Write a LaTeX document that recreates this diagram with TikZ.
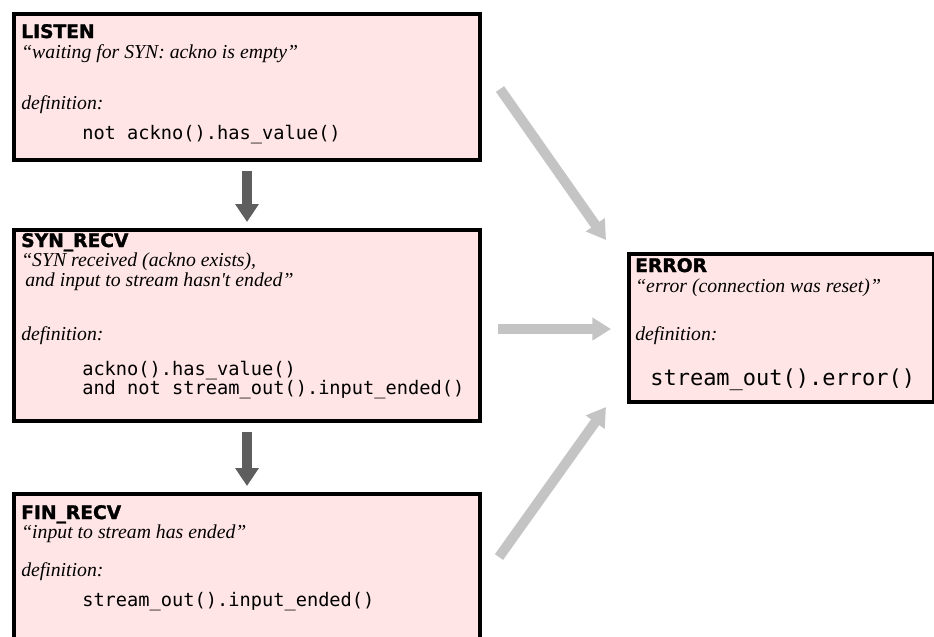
\documentclass[tikz,border=0pt]{standalone}
\usepackage{fontspec}
\newfontfamily\titlefont{DejaVu Sans}[BoldFeatures={FakeBold=1.6}]
\newfontfamily\notefont{Liberation Serif}
\newfontfamily\codefont{DejaVu Sans Mono}
\usetikzlibrary{arrows.meta}

\begin{document}
\begin{tikzpicture}[x=0.75pt,y=-0.75pt,
    state/.style={draw=black, line width=3pt, fill=statefill, inner sep=0pt, anchor=north west},
    statename/.style={font=\titlefont\bfseries\fontsize{14}{16}\selectfont, anchor=base west, inner sep=0pt},
    notetext/.style={font=\notefont\itshape\fontsize{14.8}{16}\selectfont, anchor=base west, inner sep=0pt},
    codetext/.style={font=\codefont\fontsize{14}{16}\selectfont, anchor=base west, inner sep=0pt},
    bigcode/.style={codetext, font=\codefont\fontsize{16.5}{19}\selectfont},
    darrow/.style={draw=arrowdark, line width=7.5pt, -{Triangle[width=17pt,length=13.5pt]}},
    garrow/.style={draw=arrowlight, line width=7.5pt, -{Triangle[width=16.5pt,length=14pt]}}]

    \colorlet{statefill}{red!10}
    \colorlet{arrowdark}{black!63}
    \colorlet{arrowlight}{black!23}

    \useasboundingbox (0,0) rectangle (934,636);
    \clip (0,0) rectangle (934,636);

    % the four states
    \node[state, minimum width=349.5pt, minimum height=109.5pt] (listen) at (12,12) {};
    \node[state, minimum width=349.5pt, minimum height=143.25pt] (synrecv) at (12,228) {};
    \node[state, minimum width=349.5pt, minimum height=156pt] (finrecv) at (12,492) {};
    \node[state, minimum width=228.75pt, minimum height=111pt] (error) at (627,252) {};

    % LISTEN
    \node[statename] (listen-name) at ([shift={(9,26)}]listen.north west) {LISTEN};
    \node[notetext] (listen-note) at ([shift={(9,46)}]listen.north west) {“waiting for SYN: ackno is empty”};
    \node[notetext] (listen-def) at ([shift={(9,97)}]listen.north west) {definition:};
    \node[codetext] (listen-code) at ([shift={(70,127)}]listen.north west) {not ackno().has\_value()};

    % SYN_RECV
    \node[statename] (syn-name) at ([shift={(9,19)}]synrecv.north west) {SYN\_RECV};
    \node[notetext] (syn-note1) at ([shift={(9,38)}]synrecv.north west) {“SYN received (ackno exists),};
    \node[notetext] (syn-note2) at ([shift={(13,58)}]synrecv.north west) {and input to stream hasn't ended”};
    \node[notetext] (syn-def) at ([shift={(9,112)}]synrecv.north west) {definition:};
    \node[codetext] (syn-code1) at ([shift={(70,147)}]synrecv.north west) {ackno().has\_value()};
    \node[codetext] (syn-code2) at ([shift={(70,166)}]synrecv.north west) {and not stream\_out().input\_ended()};

    % FIN_RECV
    \node[statename] (fin-name) at ([shift={(9,27)}]finrecv.north west) {FIN\_RECV};
    \node[notetext] (fin-note) at ([shift={(9,46)}]finrecv.north west) {“input to stream has ended”};
    \node[notetext] (fin-def) at ([shift={(9,84)}]finrecv.north west) {definition:};
    \node[codetext] (fin-code) at ([shift={(70,114)}]finrecv.north west) {stream\_out().input\_ended()};

    % ERROR
    \node[statename] (err-name) at ([shift={(8,20)}]error.north west) {ERROR};
    \node[notetext] (err-note) at ([shift={(8,40)}]error.north west) {“error (connection was reset)”};
    \node[notetext] (err-def) at ([shift={(8,88)}]error.north west) {definition:};
    \node[bigcode] (err-code) at ([shift={(23,133)}]error.north west) {stream\_out().error()};

    % transitions
    \draw[darrow, shorten <=6.75pt, shorten >=4.5pt] (listen.south) -- (synrecv.north);
    \draw[darrow, shorten <=6.75pt, shorten >=4.5pt] (synrecv.south) -- (finrecv.north);

    \draw[garrow] ([shift={(18,2)}]listen.east) -- ([shift={(-21,-12)}]error.north west);
    \draw[garrow] ([shift={(16,3.5)}]synrecv.east) -- ([shift={(-16,1)}]error.west);
    \draw[garrow] ([shift={(17,65)}]finrecv.north east) -- ([shift={(-21,3)}]error.south west);

\end{tikzpicture}
\end{document}
